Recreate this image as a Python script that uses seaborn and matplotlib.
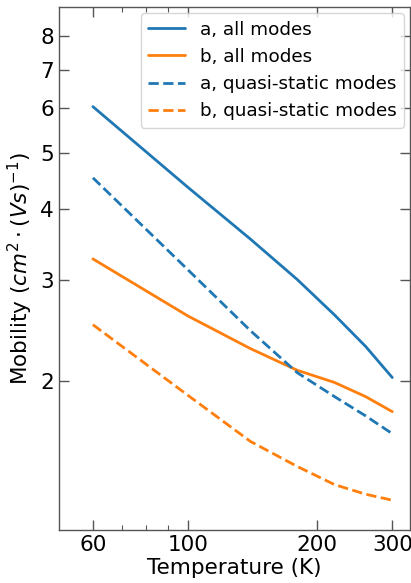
import numpy as np
import pandas as pd
import matplotlib
matplotlib.use("Agg")
import matplotlib.pyplot as plt
import seaborn as sns
from matplotlib.ticker import FixedLocator, NullFormatter, FuncFormatter

sns.set_style("ticks")
plt.rcParams['font.family'] = ['DejaVu Sans']
plt.rcParams['text.color'] = 'black'
plt.rcParams['axes.labelcolor'] = 'black'
plt.rcParams['xtick.labelcolor'] = 'black'
plt.rcParams['ytick.labelcolor'] = 'black'

temperature = [60, 100, 140, 180, 220, 260, 300]
a_all = [6.03, 4.36, 3.54, 3.01, 2.61, 2.30, 2.03]
b_all = [3.27, 2.60, 2.28, 2.09, 1.99, 1.88, 1.77]
a_qs = [4.53, 3.13, 2.45, 2.07, 1.88, 1.74, 1.62]
b_qs = [2.51, 1.89, 1.57, 1.42, 1.32, 1.27, 1.24]

labels = ["a, all modes", "b, all modes", "a, quasi-static modes", "b, quasi-static modes"]
series = [a_all, b_all, a_qs, b_qs]
colors = ["#1f77b4", "#ff7f0e", "#1f77b4", "#ff7f0e"]
styles = ["-", "-", "--", "--"]

xticks = [60, 100, 200, 300]
yticks = [2, 3, 4, 5, 6, 7, 8]

fig = plt.figure(figsize=(4.11, 5.83), dpi=100)
ax = fig.add_axes([59/411, 1-530/583, (410-59)/411, (530-7)/583])

for lab, vals, c, ls in zip(labels, series, colors, styles):
    df = pd.DataFrame({"T": temperature, "mu": vals})
    sns.lineplot(data=df, x="T", y="mu", ax=ax, color=c, linestyle=ls,
                 linewidth=2, label=lab)

ax.set_xscale("log")
ax.set_yscale("log")
ax.set_xlim(50, 330)
ax.set_ylim(1.10, 9.0)

ax.xaxis.set_major_locator(FixedLocator(xticks))
ax.xaxis.set_major_formatter(FuncFormatter(lambda v, p: f"{v:g}"))
ax.xaxis.set_minor_locator(FixedLocator([70, 80, 90]))
ax.xaxis.set_minor_formatter(NullFormatter())
ax.yaxis.set_major_locator(FixedLocator(yticks))
ax.yaxis.set_major_formatter(FuncFormatter(lambda v, p: f"{v:g}"))
ax.yaxis.set_minor_locator(FixedLocator([]))
ax.yaxis.set_minor_formatter(NullFormatter())

ax.tick_params(which="both", direction="in", top=True, right=True, labelsize=15.5,
               color="#555555", labelcolor="black")
ax.tick_params(which="major", length=7, width=1)
ax.tick_params(which="minor", length=3.5, width=0.8)
for s in ax.spines.values():
    s.set_color("#555555")
    s.set_linewidth(1)

ax.set_xlabel("Temperature (K)", fontsize=15.5, labelpad=2, color="black")
ax.set_ylabel(r"Mobility ($cm^2 \cdot (Vs)^{-1}$)", fontsize=15.5, labelpad=4, color="black")

leg = ax.legend(loc="upper right", fontsize=13.2, handlelength=2.0, borderaxespad=0.35)
for t in leg.get_texts():
    t.set_color("black")

fig.savefig("out.png", dpi=100)
